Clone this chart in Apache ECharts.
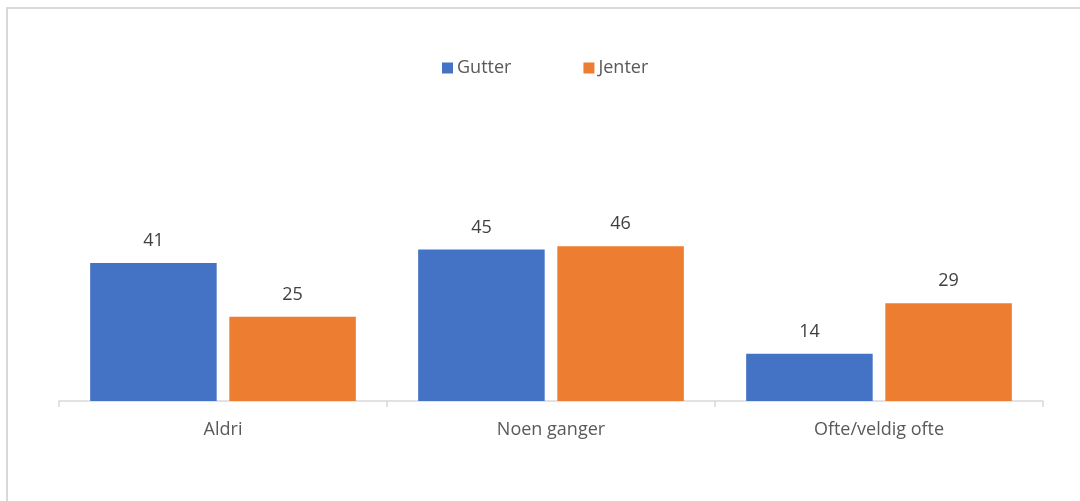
<!DOCTYPE html>
<html>
<head>
<meta charset="utf-8">
<script src="https://cdn.jsdelivr.net/npm/echarts@6/dist/echarts.min.js"></script>
<style>
html, body { margin: 0; padding: 0; background: #fff; }
#main { width: 1080px; height: 501px; }
</style>
</head>
<body>
<div id="main"></div>
<script>
var categories = ['Aldri', 'Noen ganger', 'Ofte/veldig ofte'];
var gutter = [41, 45, 14];
var jenter = [25, 46, 29];

var chart = echarts.init(document.getElementById('main'));
var font = '"Open Sans", Lato, sans-serif';

var option = {
    animation: false,
    textStyle: { fontFamily: font },
    graphic: [{
        type: 'rect',
        shape: { x: 7, y: 8, width: 1200, height: 700 },
        style: { fill: 'none', stroke: '#d9d9d9', lineWidth: 2 },
        silent: true
    }],
    legend: {
        data: ['Gutter', 'Jenter'],
        left: 437,
        top: 54,
        itemWidth: 11,
        itemHeight: 11,
        itemGap: 72,
        icon: 'rect',
        textStyle: { color: '#595959', fontSize: 18, fontFamily: font, padding: [0, 0, 0, -1] }
    },
    grid: {
        left: 59,
        right: 37,
        top: 199,
        bottom: 100
    },
    xAxis: {
        type: 'category',
        data: categories,
        axisLine: { lineStyle: { color: '#d9d9d9', width: 1.5 } },
        axisTick: { show: true, length: 6, lineStyle: { color: '#d9d9d9', width: 1.5 } },
        axisLabel: { color: '#595959', fontSize: 18, margin: 20, fontFamily: font }
    },
    yAxis: {
        type: 'value',
        min: 0,
        max: 60,
        show: false
    },
    series: [{
        name: 'Gutter',
        type: 'bar',
        data: gutter,
        barGap: '10%',
        barCategoryGap: '19%',
        itemStyle: { color: '#4472C4' },
        label: { show: true, position: 'top', distance: 13, color: '#404040', fontSize: 18, fontFamily: font }
    }, {
        name: 'Jenter',
        type: 'bar',
        data: jenter,
        itemStyle: { color: '#ED7D31' },
        label: { show: true, position: 'top', distance: 13, color: '#404040', fontSize: 18, fontFamily: font }
    }]
};

chart.setOption(option);
window.addEventListener('resize', function () {
    chart.resize();
});
</script>
</body>
</html>
